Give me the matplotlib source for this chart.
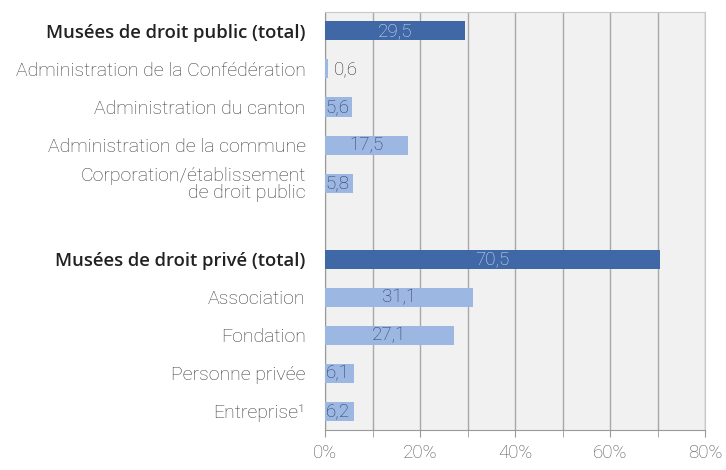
import matplotlib
matplotlib.use("Agg")
import matplotlib.pyplot as plt
import numpy as np

# données (en %)
categories = [
    "Musées de droit public (total)",
    "Administration de la Confédération",
    "Administration du canton",
    "Administration de la commune",
    "Corporation/établissement\nde droit public",
    "",
    "Musées de droit privé (total)",
    "Association",
    "Fondation",
    "Personne privée",
    "Entreprise¹",
]
values = [29.5, 0.6, 5.6, 17.5, 5.8, None, 70.5, 31.1, 27.1, 6.1, 6.2]
value_labels = ["29,5", "0,6", "5,6", "17,5", "5,8", "", "70,5", "31,1", "27,1", "6,1", "6,2"]
is_total = [True, False, False, False, False, False, True, False, False, False, False]
x_ticks = [0, 20, 40, 60, 80]
x_tick_labels = ["0%", "20%", "40%", "60%", "80%"]

dark_blue = "#4068a6"
light_blue = "#9bb7e2"
label_font = "Roboto"
bold_font = "Open Sans"

fig = plt.figure(figsize=(7.26, 4.70), dpi=100)
ax = fig.add_axes([0.4477, 0.085, 0.5235, 0.8895])
ax.set_facecolor("#f1f1f1")

for i, (v, lab, tot) in enumerate(zip(values, value_labels, is_total)):
    if v is None:
        continue
    color = dark_blue if tot else light_blue
    ax.barh(i, v, height=0.5, color=color, zorder=3)
    kw = dict(va="center", fontsize=13.5, family=label_font,
              fontweight="light", zorder=4)
    if tot:
        ax.text(v / 2, i, lab, ha="center", color="#d3def2", **kw)
    elif v < 2:
        ax.text(v + 1.2, i, lab, ha="left", color="#333333", **kw)
    elif v < 10:
        ax.text(0.1, i, lab, ha="left", color="#2e3f5e", **kw)
    else:
        ax.text(v / 2, i, lab, ha="center", color="#2e3f5e", **kw)

ax.set_xlim(0, 80)
ax.set_ylim(10.5, -0.5)
ax.set_xticks(x_ticks)
ax.set_xticklabels(x_tick_labels, family=label_font, fontweight="light",
                   fontsize=13.5, color="#555555")
ax.set_xticks(np.arange(10, 80, 20), minor=True)
ax.tick_params(axis="x", which="both", length=5, color="#999999", pad=5)
ax.grid(axis="x", which="both", color="#a8a8a8", linewidth=1, zorder=1)

ax.set_yticks(range(len(categories)))
ax.set_yticklabels(categories)
ax.tick_params(axis="y", length=0, pad=14)
for lbl, tot in zip(ax.get_yticklabels(), is_total):
    if tot:
        lbl.set_family(bold_font)
        lbl.set_fontweight("semibold")
        lbl.set_color("#222222")
        lbl.set_fontsize(13.3)
    else:
        lbl.set_family(label_font)
        lbl.set_fontweight("light")
        lbl.set_color("#3c3c3c")
        lbl.set_fontsize(14)
    lbl.set_linespacing(0.95)

for side in ["top", "right"]:
    ax.spines[side].set_color("#c8c8c8")
for side in ["left", "bottom"]:
    ax.spines[side].set_color("#999999")

fig.savefig("out.png", dpi=100)
